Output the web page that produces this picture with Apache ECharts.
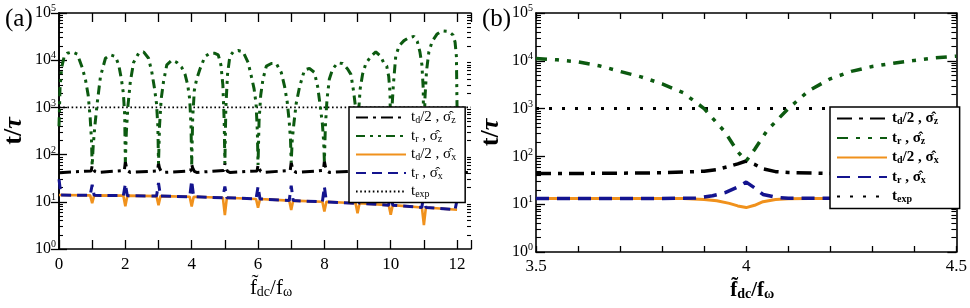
<!DOCTYPE html>
<html><head><meta charset="utf-8">
<script src="https://cdn.jsdelivr.net/npm/echarts@6/dist/echarts.min.js"></script>
<style>html,body{margin:0;padding:0;background:#fff}#c{width:970px;height:308px}</style>
</head><body><div id="c"></div>
<script>
// ---------- Panel (a) data ----------
// green t_r (sigma_z): arches between integer resonances, sampled at n + offset
const archOffsetsA = [0, 0.03, 0.08, 0.15, 0.25, 0.4, 0.55, 0.7, 0.8, 0.88, 0.94, 0.98];
const greenArchesA = [
  [400, 2500, 7000, 11500, 14000, 15000, 13500, 7000, 3800, 1800, 600, 200],
  [58, 150, 400, 1200, 4500, 11000, 13000, 12000, 8000, 4000, 2000, 700],
  [70, 300, 1100, 3500, 9000, 14000, 15000, 11000, 5500, 2500, 1200, 400],
  [65, 400, 1500, 3500, 8000, 10000, 9000, 7000, 5000, 3000, 1500, 400],
  [62, 600, 2300, 4000, 6500, 12000, 14000, 14000, 13000, 8000, 3000, 500],
  [65, 1000, 5000, 12000, 15000, 16000, 15000, 9000, 4500, 2500, 1200, 300],
  [60, 500, 1800, 4000, 7500, 8500, 8500, 5500, 2800, 1300, 500, 200],
  [68, 200, 450, 1200, 2700, 6200, 6700, 5500, 2700, 1000, 450, 180],
  [72, 400, 1500, 4000, 6500, 8800, 8500, 6500, 5000, 2200, 1000, 300],
  [65, 800, 2500, 5000, 8500, 12000, 15000, 12000, 8500, 7500, 4500, 2000],
  [65, 800, 3000, 12000, 20000, 26000, 30000, 32000, 25000, 15000, 8000, 2500],
  [65, 1500, 6000, 15000, 25000, 36000, 42000, 41000, 38000, 34000, 24000, 12000]
];
const greenEndA = [12, 900];

// black t_d/2 (sigma_z): flat baseline with cusps at integers
const blackBaseA = 41.5;
const cuspOffsetsA = [-0.03, 0, 0.03, 0.08, 0.15];
const blackCuspsA = [
  [45, 58, 50, 44, 42], [46, 70, 55, 45, 42], [45, 65, 52, 44, 42], [45, 62, 52, 44, 42],
  [46, 65, 53, 44, 42], [45, 60, 52, 44, 42], [46, 68, 55, 45, 42], [46, 72, 56, 45, 42],
  [45, 65, 52, 44, 42], [45, 65, 52, 44, 42], [45, 65, 52, 44, 42]
];

// sigma_x curves: baseline at integers 0..12, blue spikes up, orange dips down
const baseXA = [13.9, 13.7, 13.5, 13.2, 12.8, 12.2, 11.5, 10.6, 10.0, 9.3, 8.5, 7.6, 6.8];
const blueSpikeA = [30, 23, 24, 25, 28, 21, 21, 22, 21, 19, 18, 16, 11];
const orangeDipA = [null, 9.3, 8, 8.5, 8, 5.2, 7.5, 6.7, 6.2, 5.7, 5.3, 3.2, null];
const texp = 1000;

// ---------- Panel (b) data ----------
const greenXB = [3.5,3.55,3.6,3.65,3.7,3.75,3.8,3.85,3.9,3.95,3.98,4.0,4.02,4.05,4.1,4.15,4.2,4.25,4.3,4.35,4.4,4.45,4.5];
const greenYB = [11200,10500,9500,7900,6000,4600,3300,2150,1000,320,125,80,140,350,1000,2400,4200,6000,7600,8900,10200,11500,12500];
const blackXB = [3.5,3.6,3.7,3.8,3.85,3.9,3.93,3.96,3.98,4.0,4.02,4.04,4.07,4.1,4.2,4.3,4.5];
const blackYB = [44,44,44.5,45.5,47,49,53,62,70,80,68,55,48,46,44,43.5,43.5];
const blueXB = [3.5,3.8,3.88,3.92,3.95,3.98,4.0,4.02,4.04,4.07,4.1,4.5];
const blueYB = [13.2,13.2,13.5,15,17.5,23,29,22,16,14,13.3,13.2];
const orangeXB = [3.5,3.85,3.9,3.93,3.96,3.98,4.0,4.02,4.04,4.07,4.1,4.15,4.5];
const orangeYB = [13.2,13.1,12.6,11.8,10.4,9.2,8.5,9.5,11.3,12.6,13.0,13.2,13.2];

// ---------- build point lists ----------
const L = Math.log10;
const P = (x, y) => [x, L(y)];
const greenA = [];
greenArchesA.forEach((arch, n) => archOffsetsA.forEach((o, i) => greenA.push(P(n + o, arch[i]))));
greenA.push(P(greenEndA[0], greenEndA[1]));
const blackA = [P(0, blackBaseA)];
blackCuspsA.forEach((c, k) => cuspOffsetsA.forEach((o, i) => blackA.push(P(k + 1 + o, c[i]))));
blackA.push(P(12.42, blackBaseA));
const blueA = [], orangeA = [];
baseXA.forEach((b, n) => {
  if (n > 0) { blueA.push(P(n - 0.06, b)); }
  blueA.push(P(n, blueSpikeA[n]));
  if (n < 12) { blueA.push(P(n + 0.06, b)); }
  if (orangeDipA[n] === null) { orangeA.push(P(n, b)); }
  else { orangeA.push(P(n - 0.06, b), P(n, orangeDipA[n]), P(n + 0.06, b)); }
});
const zip = (xs, ys) => xs.map((x, i) => P(x, ys[i]));

const F = "'Liberation Serif','DejaVu Serif',serif";
const minorVals = [];
for (let n = 0; n < 5; n++) for (let k = 2; k <= 9; k++) minorVals.push(n + L(k));

function yAxes(grid, majorLen, minorLen, bold) {
  const base = {gridIndex: grid, type: 'value', min: 0, max: 5, interval: 1, splitLine: {show: false}};
  return [
    Object.assign({}, base, {position: 'left',
      axisLine: {show: true, lineStyle: {color: '#000', width: 1.6}},
      axisTick: {inside: true, length: majorLen, lineStyle: {color: '#000', width: 1.3}},
      axisLabel: {margin: 3, color: '#000', fontFamily: F, formatter: v => '{b|10}{s|' + v + '}',
        rich: {b: {fontSize: 16, fontFamily: F, color: '#000'}, s: {fontSize: 10, fontFamily: F, color: '#000', padding: [0, 0, 9, 0]}}},
      name: '{t|t/}{u|τ}', nameLocation: 'middle', nameRotate: 90, nameGap: 32,
      nameTextStyle: {rich: {t: {fontSize: 26, fontWeight: 'bold', fontFamily: F, color: '#000'}, u: {fontSize: 26, fontWeight: 'bold', fontStyle: 'italic', fontFamily: F, color: '#000'}}}}),
    Object.assign({}, base, {position: 'right',
      axisLine: {show: true, lineStyle: {color: '#000', width: 1.6}},
      axisTick: {inside: true, length: majorLen, lineStyle: {color: '#000', width: 1.3}},
      axisLabel: {show: false}}),
    Object.assign({}, base, {position: 'left', axisLine: {show: false},
      axisTick: {inside: true, length: minorLen, customValues: minorVals, lineStyle: {color: '#000', width: 1.1}},
      axisLabel: {show: false}}),
    Object.assign({}, base, {position: 'right', axisLine: {show: false},
      axisTick: {inside: true, length: minorLen, customValues: minorVals, lineStyle: {color: '#000', width: 1.1}},
      axisLabel: {show: false}})
  ];
}

function xName(bold) {
  const w = bold ? 'bold' : 'normal';
  return {
    name: '{m|f\u0303}{s|dc}{m|/f}{s|ω}', nameLocation: 'middle', nameGap: 22,
    nameTextStyle: {padding: [0, 0, 0, 12], rich: {m: {fontSize: 21, fontWeight: w, fontFamily: F, color: '#000'},
      s: {fontSize: 14, fontWeight: w, fontFamily: F, color: '#000', padding: [8, 0, 0, 0]}}}
  };
}

const xAxes = [
  Object.assign({gridIndex: 0, type: 'value', min: 0, max: 12.42, interval: 1, position: 'bottom',
    splitLine: {show: false},
    axisLine: {show: true, onZero: false, lineStyle: {color: '#000', width: 1.6}},
    axisTick: {inside: true, length: 9, lineStyle: {color: '#000', width: 1.3}},
    axisLabel: {margin: 7, fontSize: 17, fontFamily: F, color: '#000',
      formatter: v => (Math.abs(v - Math.round(v)) < 1e-6 && Math.round(v) % 2 === 0) ? String(Math.round(v)) : ''}}, xName(false)),
  {gridIndex: 0, type: 'value', min: 0, max: 12.42, interval: 1, position: 'top', splitLine: {show: false},
    axisLine: {show: true, onZero: false, lineStyle: {color: '#000', width: 1.6}},
    axisTick: {inside: true, length: 9, lineStyle: {color: '#000', width: 1.3}}, axisLabel: {show: false}},
  Object.assign({gridIndex: 1, type: 'value', min: 3.5, max: 4.5, interval: 0.1, position: 'bottom',
    splitLine: {show: false},
    axisLine: {show: true, onZero: false, lineStyle: {color: '#000', width: 1.6}},
    axisTick: {inside: true, length: 6, lineStyle: {color: '#000', width: 1.3}},
    axisLabel: {margin: 6, fontSize: 17, fontFamily: F, color: '#000',
      formatter: v => (Math.abs(v * 2 - Math.round(v * 2)) < 1e-6) ? String(Math.round(v * 2) / 2) : ''}}, xName(true)),
  {gridIndex: 1, type: 'value', min: 3.5, max: 4.5, interval: 0.1, position: 'top', splitLine: {show: false},
    axisLine: {show: true, onZero: false, lineStyle: {color: '#000', width: 1.6}},
    axisTick: {inside: true, length: 6, lineStyle: {color: '#000', width: 1.3}}, axisLabel: {show: false}}
];

const labelTxt = [
  '{t|t}{s|d}{t|/2 , σ\u0302}{s|z}',
  '{t|t}{s|r}{t| , σ\u0302}{s|z}',
  '{t|t}{s|d}{t|/2 , σ\u0302}{s|x}',
  '{t|t}{s|r}{t| , σ\u0302}{s|x}',
  '{t|t}{s|exp}'
];
const namesA = ['a1', 'a2', 'a3', 'a4', 'a5'];
const namesB = ['b1', 'b2', 'b3', 'b4', 'b5'];
function legend(names, left, top, gap, bold, pad) {
  const w = bold ? 'bold' : 'normal';
  return {data: names, orient: 'vertical', left: left, top: top, itemWidth: 50, itemHeight: 14, itemGap: gap,
    backgroundColor: '#fff', borderColor: '#000', borderWidth: 1.5, borderRadius: 0, padding: pad,
    selectedMode: false,
    itemStyle: {color: 'rgba(0,0,0,0)', borderWidth: 0, opacity: 0},
    formatter: n => labelTxt[names.indexOf(n)],
    textStyle: {color: '#000', fontFamily: F, rich: {
      t: {fontSize: 15, fontWeight: w, fontFamily: F, color: '#000'},
      s: {fontSize: 10, fontWeight: w, fontFamily: F, color: '#000', padding: [6, 0, 0, 0]}}}};
}

function line(name, xi, yi, data, color, width, type) {
  return {name: name, type: 'line', xAxisIndex: xi, yAxisIndex: yi, data: data, symbol: 'none',
    showSymbol: false, smooth: false, animation: false,
    lineStyle: {color: color, width: width, type: type}, itemStyle: {color: color}};
}

const GREEN = '#0c5a10', BLUE = '#14148f', ORANGE = '#f0911c';
const option = {
  animation: false,
  backgroundColor: '#fff',
  title: [
    {text: '(a)', left: 0, top: 2, textStyle: {fontSize: 25, fontWeight: 'normal', fontFamily: F, color: '#000'}},
    {text: '(b)', left: 477, top: 2, textStyle: {fontSize: 25, fontWeight: 'normal', fontFamily: F, color: '#000'}}
  ],
  grid: [
    {left: 58, top: 13, width: 413, height: 236},
    {left: 536, top: 13, width: 421, height: 239}
  ],
  xAxis: xAxes,
  yAxis: yAxes(0, 8, 4, false).concat(yAxes(1, 9, 5, true)),
  legend: [
    legend(namesA, 349, 107, 3, false, [3, 9, 3, 6]),
    legend(namesB, 830, 107, 4, true, [4, 21, 4, 6])
  ],
  series: [
    line('a5', 0, 0, [P(0, texp), P(12.42, texp)], '#000', 1.6, [1.6, 2.6]),
    line('a1', 0, 0, blackA, '#000', 3, [12, 5, 3, 5]),
    line('a2', 0, 0, greenA, GREEN, 3, [9, 5, 3, 5, 3, 5]),
    line('a3', 0, 0, orangeA, ORANGE, 2.6, 'solid'),
    line('a4', 0, 0, blueA, BLUE, 3, [10, 6]),
    line('b5', 2, 4, [P(3.5, texp), P(4.5, texp)], '#000', 3, [3, 10]),
    line('b1', 2, 4, zip(blackXB, blackYB), '#000', 3.5, [15, 7, 4, 7]),
    line('b2', 2, 4, zip(greenXB, greenYB), GREEN, 3.5, [11, 8, 4, 8, 4, 8]),
    line('b3', 2, 4, zip(orangeXB, orangeYB), ORANGE, 3, 'solid'),
    line('b4', 2, 4, zip(blueXB, blueYB), BLUE, 3.5, [13, 8])
  ]
};
const chart = echarts.init(document.getElementById('c'), null, {renderer: 'canvas'});
chart.setOption(option);
</script>
</body></html>
